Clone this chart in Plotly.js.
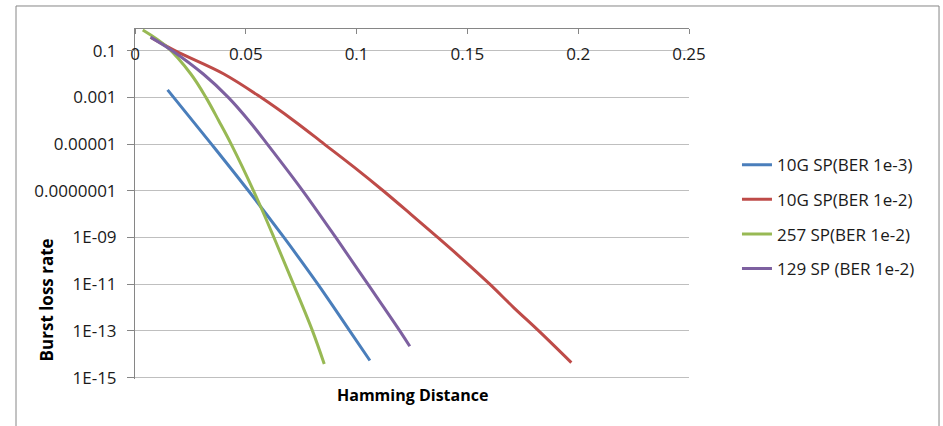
<!DOCTYPE html>
<html>
<head>
<meta charset="utf-8">
<script src="https://cdn.plot.ly/plotly-3.0.1.min.js"></script>
<style>
html,body{margin:0;padding:0;background:#fff;}
#chart{width:943px;height:426px;}
</style>
</head>
<body>
<div id="chart"></div>
<script>
// Hamming distance (x) and burst loss rate (y)
var seriesNames = ["10G SP(BER 1e-3)", "10G SP(BER 1e-2)", "257 SP(BER 1e-2)", "129 SP (BER 1e-2)"];
var seriesColors = ["#4A7EBB", "#BE4B48", "#98B954", "#7D60A0"];

var blueX = [0.0147, 0.0345, 0.0512, 0.0672, 0.0825, 0.0969, 0.1060];
var blueY = [2.1e-3, 1e-5, 1e-7, 1e-9, 1e-11, 1e-13, 5.4e-15];

var redX = [0.0072, 0.0180, 0.0401, 0.0568, 0.0717, 0.0854, 0.0990, 0.1120, 0.1244, 0.1366, 0.1486, 0.1601, 0.1709, 0.1822, 0.1969];
var redY = [0.37, 0.1, 1e-2, 1e-3, 1e-4, 1e-5, 1e-6, 1e-7, 1e-8, 1e-9, 1e-10, 1e-11, 1e-12, 1e-13, 4.4e-15];

var greenX = [0.0035, 0.0143, 0.0252, 0.0320, 0.0378, 0.0434, 0.0535, 0.0627, 0.0715, 0.0801, 0.0854];
var greenY = [0.77, 0.148, 1e-2, 1e-3, 1e-4, 1e-5, 1e-7, 1e-9, 1e-11, 1e-13, 3.8e-15];

var purpleX = [0.0070, 0.0168, 0.0308, 0.0421, 0.0514, 0.0597, 0.0757, 0.0906, 0.1051, 0.1195, 0.1240];
var purpleY = [0.38, 0.1, 1e-2, 1e-3, 1e-4, 1e-5, 1e-7, 1e-9, 1e-11, 1e-13, 2.2e-14];

var xTickVals = [0, 0.05, 0.1, 0.15, 0.2, 0.25];
var xTickText = ["0", "0.05", "0.1", "0.15", "0.2", "0.25"];
var yTickVals = [1e-15, 1e-13, 1e-11, 1e-9, 1e-7, 1e-5, 1e-3, 1e-1];
var yTickText = ["1E-15", "1E-13", "1E-11", "1E-09", "0.0000001", "0.00001", "0.001", "0.1"];

var xs = [blueX, redX, greenX, purpleX];
var ys = [blueY, redY, greenY, purpleY];

var font = "'Open Sans', 'Liberation Sans', sans-serif";

var traces = seriesNames.map(function (n, i) {
  return {
    x: xs[i], y: ys[i], name: n, type: "scatter", mode: "lines",
    legendgroup: "g" + i,
    line: {color: seriesColors[i], width: 3, shape: "spline", smoothing: 1},
    hoverinfo: "skip"
  };
});

var layout = {
  width: 943, height: 426,
  margin: {l: 135, r: 254, t: 28, b: 47, pad: 0},
  paper_bgcolor: "#ffffff", plot_bgcolor: "#ffffff",
  font: {family: font, size: 17, color: "#1a1a1a"},
  showlegend: true,
  legend: {
    x: 1.0866, xanchor: "left", y: 0.6604, yanchor: "top",
    font: {family: font, size: 17, color: "#1a1a1a"},
    tracegroupgap: 9.5, bgcolor: "rgba(0,0,0,0)", borderwidth: 0
  },
  xaxis: {
    range: [0, 0.25], type: "linear",
    anchor: "free", position: 1, side: "bottom",
    tickmode: "array", tickvals: xTickVals, ticktext: xTickText,
    ticks: "outside", ticklen: 5, tickwidth: 1, tickcolor: "#868686",
    ticklabelstandoff: 6,
    showline: true, linecolor: "#868686", linewidth: 1,
    showgrid: false, zeroline: false,
    tickfont: {family: font, size: 17, color: "#1a1a1a"},
    fixedrange: true
  },
  yaxis: {
    type: "log", range: [-15.06, -0.03],
    tickmode: "array", tickvals: yTickVals, ticktext: yTickText,
    ticks: "outside", ticklen: 7, tickwidth: 1, tickcolor: "#868686",
    ticklabelstandoff: 7,
    showline: true, linecolor: "#868686", linewidth: 1,
    showgrid: true, gridcolor: "#BFBFBF", gridwidth: 1,
    zeroline: false, automargin: false,
    tickfont: {family: font, size: 17, color: "#1a1a1a"},
    fixedrange: true
  },
  annotations: [
    {text: "<b>Hamming Distance</b>", xref: "paper", yref: "paper", x: 0.5, y: -0.046,
     xanchor: "center", yanchor: "middle", showarrow: false,
     font: {family: font, size: 16, color: "#000"}},
    {text: "<b>Burst loss rate</b>", xref: "paper", yref: "paper", x: -0.160, y: 0.225,
     xanchor: "center", yanchor: "middle", showarrow: false, textangle: -90,
     font: {family: font, size: 17, color: "#000"}}
  ],
  shapes: [
    {type: "rect", xref: "paper", yref: "paper", x0: -0.2148, x1: 1.4513, y0: -0.16, y1: 1.0627,
     line: {color: "#868686", width: 1}, fillcolor: "rgba(0,0,0,0)", layer: "below"}
  ]
};

Plotly.newPlot("chart", traces, layout, {displayModeBar: false, staticPlot: true});
</script>
</body>
</html>
